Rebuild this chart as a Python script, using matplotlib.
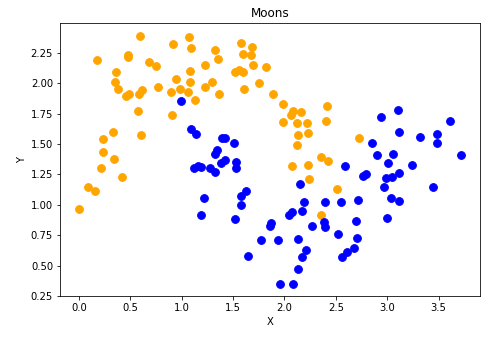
import numpy as np
import matplotlib
matplotlib.use('Agg')
import matplotlib.pyplot as plt

plt.rc('font', family='DejaVu Sans')

# class 0 (upper moon)
orange_x = [0.00, 0.09, 0.15, 0.17, 0.21, 0.23, 0.23, 0.34, 0.33, 0.36,
            0.35, 0.38, 0.42, 0.46, 0.48, 0.48, 0.49, 0.58, 0.61, 0.57,
            0.60, 0.59, 0.68, 0.75, 0.77, 0.89, 0.91, 0.90, 0.94, 0.98,
            1.06, 1.08, 1.08, 1.07, 1.09, 1.13, 1.23, 1.29, 1.23, 1.32,
            1.35, 1.36, 1.52, 1.58, 1.60, 1.67, 1.68, 1.69, 1.56, 1.60,
            1.61, 1.75, 1.82, 1.89, 1.99, 2.08, 2.16, 2.06, 2.41, 1.99,
            2.12, 2.22, 2.40, 2.13, 2.23, 2.12, 2.73, 2.36, 2.42, 2.07,
            2.23, 2.24, 2.51, 2.36]
orange_y = [0.97, 1.15, 1.11, 2.19, 1.30, 1.43, 1.54, 1.38, 1.60, 2.09,
            2.01, 1.95, 1.23, 1.89, 2.23, 2.21, 1.91, 1.91, 1.94, 1.77,
            1.57, 2.39, 2.17, 2.14, 1.97, 1.93, 2.32, 1.74, 2.03, 1.95,
            1.93, 2.01, 2.10, 2.38, 2.29, 1.86, 1.97, 2.01, 2.15, 2.27,
            2.20, 1.91, 2.09, 2.33, 2.24, 2.23, 2.30, 2.15, 2.11, 2.09,
            1.95, 2.00, 2.13, 1.91, 1.83, 1.77, 1.76, 1.74, 1.81, 1.68,
            1.67, 1.67, 1.69, 1.57, 1.59, 1.49, 1.55, 1.39, 1.36, 1.32,
            1.33, 1.21, 1.13, 0.92]

# class 1 (lower moon)
blue_x = [0.99, 1.09, 1.14, 1.39, 1.42, 1.51, 1.34, 1.32, 1.42, 1.38,
          1.53, 1.53, 1.12, 1.16, 1.19, 1.27, 1.32, 1.22, 1.63, 1.58,
          1.58, 1.19, 1.52, 1.64, 1.77, 1.86, 1.87, 1.94, 1.96, 2.08,
          2.13, 2.17, 2.21, 2.13, 2.04, 2.07, 2.17, 2.15, 2.19, 2.27,
          2.38, 2.39, 2.39, 2.52, 2.55, 2.56, 2.61, 2.68, 2.71, 2.70,
          2.72, 2.76, 2.79, 2.59, 2.85, 2.90, 2.94, 3.06, 3.01, 2.99,
          3.05, 3.12, 2.97, 3.04, 3.12, 3.00, 3.11, 3.12, 3.24, 3.32,
          3.49, 3.49, 3.61, 3.45, 3.72]
blue_y = [1.85, 1.62, 1.58, 1.55, 1.55, 1.51, 1.45, 1.42, 1.37, 1.34,
          1.35, 1.30, 1.30, 1.32, 1.31, 1.30, 1.27, 1.06, 1.11, 1.07,
          1.00, 0.92, 0.88, 0.58, 0.71, 0.83, 0.85, 0.71, 0.35, 0.35,
          0.47, 0.57, 0.63, 0.72, 0.92, 0.94, 0.95, 1.17, 1.02, 0.83,
          0.86, 0.82, 1.02, 0.76, 1.02, 0.57, 0.61, 0.65, 0.73, 0.87,
          1.04, 1.24, 1.25, 1.32, 1.51, 1.41, 1.72, 1.42, 1.34, 1.22,
          1.23, 1.26, 1.15, 1.06, 1.03, 0.89, 1.78, 1.60, 1.33, 1.56,
          1.58, 1.51, 1.69, 1.15, 1.41]

fig, ax = plt.subplots(figsize=(488/72, 340/72), dpi=72)
fig.subplots_adjust(left=0.123, right=0.984, top=0.932, bottom=0.128)

ax.scatter(orange_x, orange_y, color='orange', s=60)
ax.scatter(blue_x, blue_y, color='blue', s=60)

ax.set_title("Moons")
ax.set_xlabel("X")
ax.set_ylabel("Y")

plt.savefig("out.png", dpi=72)
